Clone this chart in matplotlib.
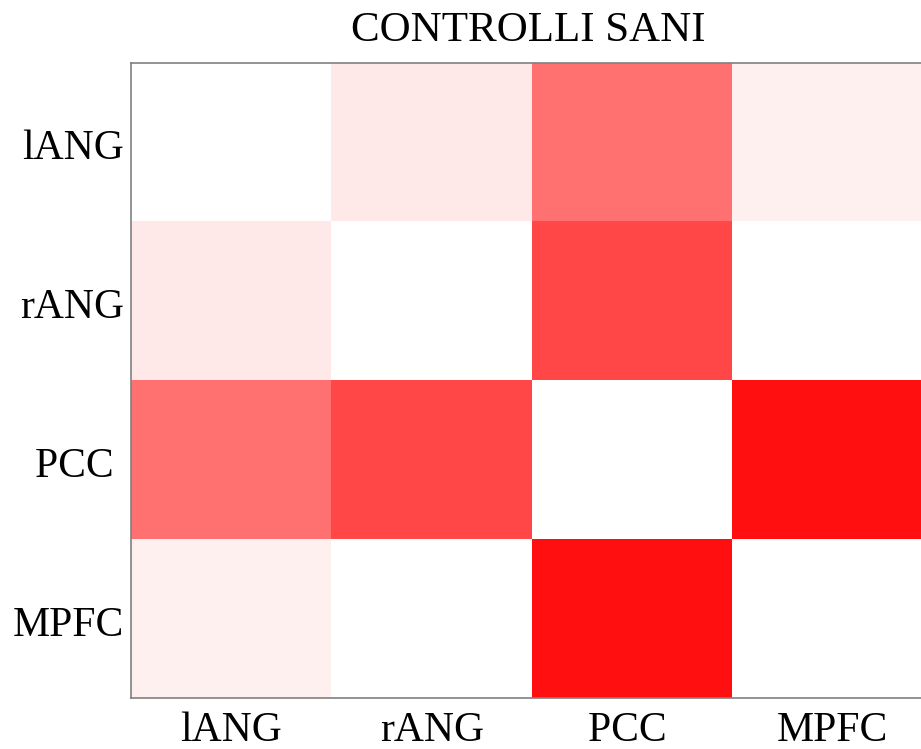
import numpy as np
import matplotlib
matplotlib.use("Agg")
import matplotlib.pyplot as plt
from matplotlib.colors import LinearSegmentedColormap
from matplotlib.transforms import ScaledTranslation

regions = ["lANG", "rANG", "PCC ", "MPFC"]
connectivity = [
    [0.00, 0.09, 0.56, 0.06],
    [0.09, 0.00, 0.72, 0.00],
    [0.56, 0.72, 0.00, 0.94],
    [0.06, 0.00, 0.94, 0.00],
]
title = "CONTROLLI SANI"

plt.rcParams["font.family"] = ["Liberation Serif", "DejaVu Serif"]

cmap = LinearSegmentedColormap.from_list("white_red", ["#ffffff", "#ff0000"])

fig = plt.figure(figsize=(9.21, 7.49), dpi=100)
ax = fig.add_axes([131 / 921, 51 / 749, 802 / 921, 635 / 749])

data = np.array(connectivity)
ax.imshow(data, cmap=cmap, vmin=0, vmax=1, aspect="auto", interpolation="nearest")

ax.set_xticks(range(len(regions)))
ax.set_xticklabels(regions, fontsize=30)
ax.set_yticks(range(len(regions)))
ax.set_yticklabels(regions, fontsize=30, ha="right", va="baseline")
ax.tick_params(axis="x", length=0, pad=10)
ax.tick_params(axis="y", length=0, pad=5)

# drop the row labels so their baseline sits a little below each row centre
shift = ScaledTranslation(0, -17 / 100, fig.dpi_scale_trans)
for lab in ax.get_yticklabels():
    lab.set_transform(lab.get_transform() + shift)

for side in ax.spines.values():
    side.set_color("#808080")
    side.set_linewidth(1.2)

fig.text(528 / 921, 1 - 31 / 749, title, fontsize=31, ha="center", va="center")

fig.savefig("out.png", dpi=100)
